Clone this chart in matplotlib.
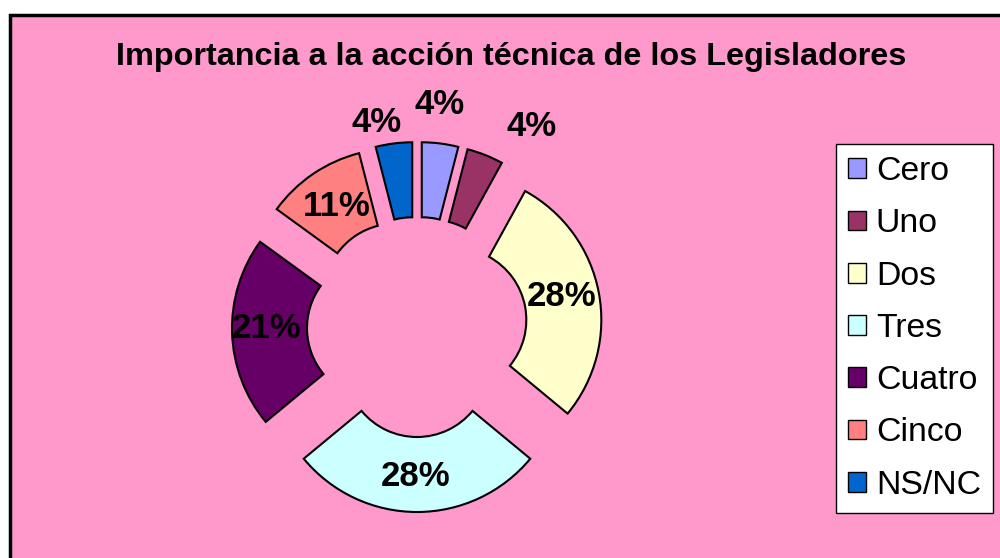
import matplotlib
matplotlib.use("Agg")
import matplotlib.pyplot as plt
from matplotlib.patches import Rectangle

categories = ["Cero", "Uno", "Dos", "Tres", "Cuatro", "Cinco", "NS/NC"]
values = [4, 4, 28, 28, 21, 11, 4]
colors = ["#9999FF", "#993366", "#FFFFCC", "#CCFFFF", "#660066", "#FF8080", "#0066CC"]
title = "Importancia a la acción técnica de los Legisladores"

W, H = 1000, 558
plt.rcParams["font.family"] = ["Liberation Sans", "DejaVu Sans"]

fig = plt.figure(figsize=(W / 100, H / 100), dpi=100, facecolor="white")
ax = fig.add_axes([0, 0, 1, 1])


def py(y):
    # pixel row (from top) -> data y (from bottom)
    return H - y


# chart area with its black frame on the left/top
ax.add_patch(Rectangle((9.5, -20), W + 20, py(14.5) + 20, facecolor="#FF99CC",
                       edgecolor="black", linewidth=2.5, zorder=0))

# exploded doughnut
cx, cy = 417, py(327)
R_out, R_in, shift = 147, 72, 38
wedges, _ = ax.pie(values, colors=colors, startangle=90, counterclock=False,
                   radius=R_out, center=(cx, cy), explode=[shift] * len(values),
                   wedgeprops=dict(width=R_out - R_in, edgecolor="black", linewidth=1.5))

# percentage labels
label_pos = [(440, 105), (532, 127), (562, 296), (416, 477), (267, 329), (337, 206), (377, 122)]
for v, (x, y) in zip(values, label_pos):
    ax.text(x, py(y), f"{v}%", ha="center", va="center", fontsize=25,
            fontweight="bold", color="black", zorder=5)

ax.text(511, py(57), title, ha="center", va="center", fontsize=23.3,
        fontweight="bold", color="black")

leg = ax.legend(wedges, categories, loc="upper left",
                bbox_to_anchor=(836 / W, 1 - 144 / H), bbox_transform=ax.transAxes,
                borderaxespad=0, fontsize=24.3, frameon=True, fancybox=False,
                framealpha=1.0, handlelength=0.52, handleheight=0.52, handletextpad=0.3,
                labelspacing=0.63, borderpad=0.36)
leg.get_frame().set_edgecolor("black")
leg.get_frame().set_linewidth(1.0)
leg.get_frame().set_facecolor("white")
for h in leg.legend_handles:
    h.set_edgecolor("black")
    h.set_linewidth(1.0)

ax.set_xlim(0, W)
ax.set_ylim(0, H)
ax.set_aspect("equal")
ax.axis("off")

fig.savefig("out.png", dpi=100, facecolor="white")
